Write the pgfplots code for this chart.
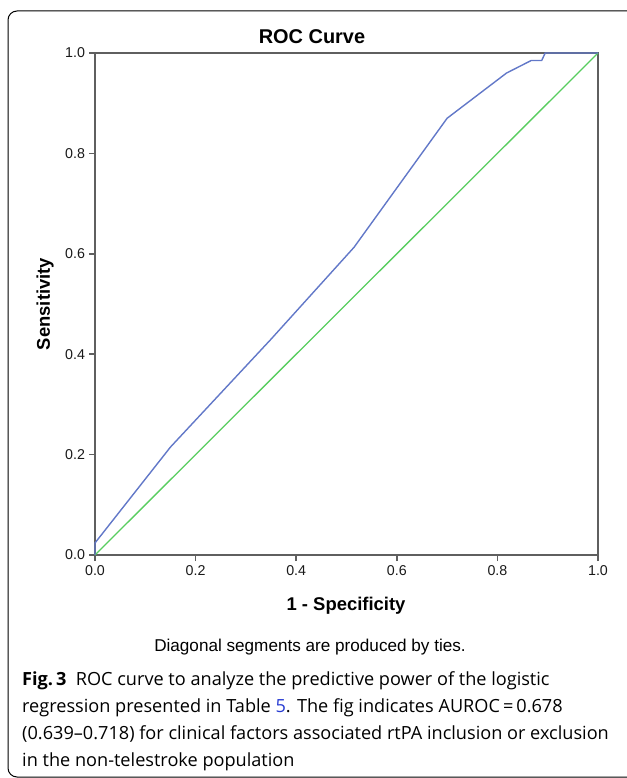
\documentclass[border=0pt]{standalone}
\usepackage{fontspec}
\setmainfont{Liberation Sans}
\newfontfamily\capfont{Open Sans}
\usepackage{pgfplots}
\pgfplotsset{compat=1.18}
\definecolor{roc}{RGB}{98,120,200}
\definecolor{diag}{RGB}{88,205,95}
\definecolor{axgray}{RGB}{95,95,95}
\definecolor{linkblue}{RGB}{40,60,210}
\begin{document}
\begin{tikzpicture}[x=1bp,y=1bp]
\useasboundingbox (0,0) rectangle (627,-778);
\draw[line width=1bp, black, rounded corners=9bp] (627,-11) -- (8,-11) -- (8,-777) -- (627,-777);
\begin{axis}[
  at={(95bp,-555bp)}, anchor=origin,
  scale only axis, width=503bp, height=502bp,
  xmin=0, xmax=1, ymin=0, ymax=1,
  xtick={0,0.2,0.4,0.6,0.8,1}, ytick={0,0.2,0.4,0.6,0.8,1},
  xtick pos=bottom, ytick pos=left,
  tick align=outside, major tick length=6bp,
  axis line style={draw=axgray, line width=1.8bp},
  tick style={draw=axgray, line width=1.5bp},
  /pgf/number format/assume math mode=true,
  /pgf/number format/.cd, fixed, fixed zerofill, precision=1, /pgfplots/.cd,
  ticklabel style={font=\fontsize{14.3}{14.3}\selectfont, text=black!90},
  xticklabel style={yshift=-1bp},
  yticklabel style={xshift=-0.5bp},
  clip=false,
]
\addplot[diag, line width=1.3bp] coordinates {(0,0) (1,1)};
\addplot[roc, line width=1.4bp] coordinates {
 (0,0) (0,0.024) (0.15,0.215) (0.35,0.43) (0.515,0.613) (0.70,0.87)
 (0.818,0.96) (0.867,0.985) (0.888,0.985) (0.895,1) (1,1)};
\end{axis}
\node[font=\bfseries\fontsize{20}{20}\selectfont] at (312,-37) {ROC Curve};
\node[font=\bfseries\fontsize{18.5}{18.5}\selectfont] at (346,-606) {1 - Specificity};
\node[font=\bfseries\fontsize{18.5}{18.5}\selectfont, rotate=90] at (45,-304) {Sensitivity};
\node[font=\fontsize{17.2}{17.2}\selectfont] at (310,-647) {Diagonal segments are produced by ties.};
\node[anchor=north west, inner sep=0pt, align=left, font=\capfont\fontsize{18.2}{27.2}\selectfont] at (22,-671)
 {{\bfseries Fig.\,3}\ \ ROC curve to analyze the predictive power of the logistic\\
 regression presented in Table {\color{linkblue}5}. The fig indicates AUROC\,=\,0.678\\
 (0.639–0.718) for clinical factors associated rtPA inclusion or exclusion\\
 in the non-telestroke population};
\end{tikzpicture}
\end{document}
